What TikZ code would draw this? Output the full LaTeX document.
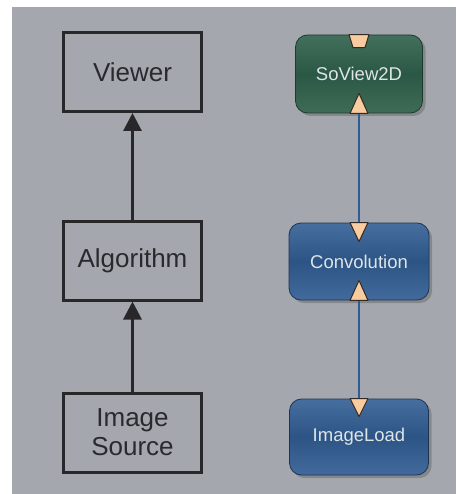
\documentclass[tikz,border=0pt]{standalone}
\usepackage{fontspec}
\setmainfont{Liberation Sans}
\usetikzlibrary{arrows.meta,shadows}
\definecolor{bg}{RGB}{164,167,173}
\definecolor{boxline}{RGB}{40,40,42}
\definecolor{boxtext}{RGB}{42,42,46}
\definecolor{modtext}{RGB}{222,228,232}
\definecolor{gtop}{RGB}{66,112,92}
\definecolor{gmid}{RGB}{42,88,68}
\definecolor{gbot}{RGB}{62,108,86}
\definecolor{gline}{RGB}{30,58,46}
\definecolor{btop}{RGB}{70,110,158}
\definecolor{bmid}{RGB}{44,84,132}
\definecolor{bbot}{RGB}{66,106,156}
\definecolor{bline}{RGB}{30,52,84}
\definecolor{wirec}{RGB}{46,92,150}
\definecolor{portfill}{RGB}{248,204,158}
\definecolor{portline}{RGB}{50,42,36}
\begin{document}
\begin{tikzpicture}[x=1pt,y=-1pt,
  classbox/.style={draw=boxline, line width=3pt, minimum width=138pt, minimum height=79pt,
    inner sep=0pt, align=center, text=boxtext, font=\fontsize{26}{29}\selectfont},
  module/.style={rounded corners=12pt, line width=0.8pt, minimum height=77pt, inner sep=0pt,
    text=modtext, font=\fontsize{18.5}{22}\selectfont,
    drop shadow={shadow xshift=3pt, shadow yshift=-3pt, opacity=0.35, fill=black!70}},
  greenmod/.style={module, draw=gline, top color=gtop, bottom color=gbot, middle color=gmid},
  bluemod/.style={module, draw=bline, top color=btop, bottom color=bbot, middle color=bmid},
  port/.style={fill=portfill, draw=portline, line width=1pt, line join=round},
  wire/.style={draw=wirec, line width=2pt},
  uml/.style={draw=boxline, line width=3pt, -{Triangle[length=18pt,width=18pt]}}
]
\useasboundingbox (0,0) rectangle (456,494);
\fill[white] (0,0) rectangle (456,494);
\fill[bg] (12,7) rectangle (456,494);

% left: conceptual diagram
\node[classbox] (viewer) at (132.5,72) {Viewer};
\node[classbox] (algo) at (132.5,260.5) {Algorithm};
\node[classbox] (src) at (132.5,432.5) {Image\\Source};
\draw[uml] (algo.north) -- (viewer.south);
\draw[uml] (src.north) -- (algo.south);

% right: module network
\node[greenmod, minimum width=127pt, minimum height=78pt] (sv) at (359,74) {SoView2D};
\node[bluemod, minimum width=140pt, minimum height=77pt] (conv) at (359,261.5) {Convolution};
\node[bluemod, minimum width=139pt, minimum height=76pt] (il) at (359,437) {ImageLoad};

\draw[wire] (sv.south) -- (conv.north);
\draw[wire] (conv.south) -- (il.north);

% ports
\draw[port] (sv.north) ++(-10,0) -- ++(20,0) -- ++(-4,13) -- ++(-12,0) -- cycle;
\draw[port] (sv.south) ++(-9,0) -- ++(18,0) -- ++(-9,-20) -- cycle;
\draw[port] (conv.north) ++(-9,0) -- ++(18,0) -- ++(-9,19) -- cycle;
\draw[port] (conv.south) ++(-9,0) -- ++(18,0) -- ++(-9,-20) -- cycle;
\draw[port] (il.north) ++(-9,0) -- ++(18,0) -- ++(-9,18) -- cycle;
\end{tikzpicture}
\end{document}
